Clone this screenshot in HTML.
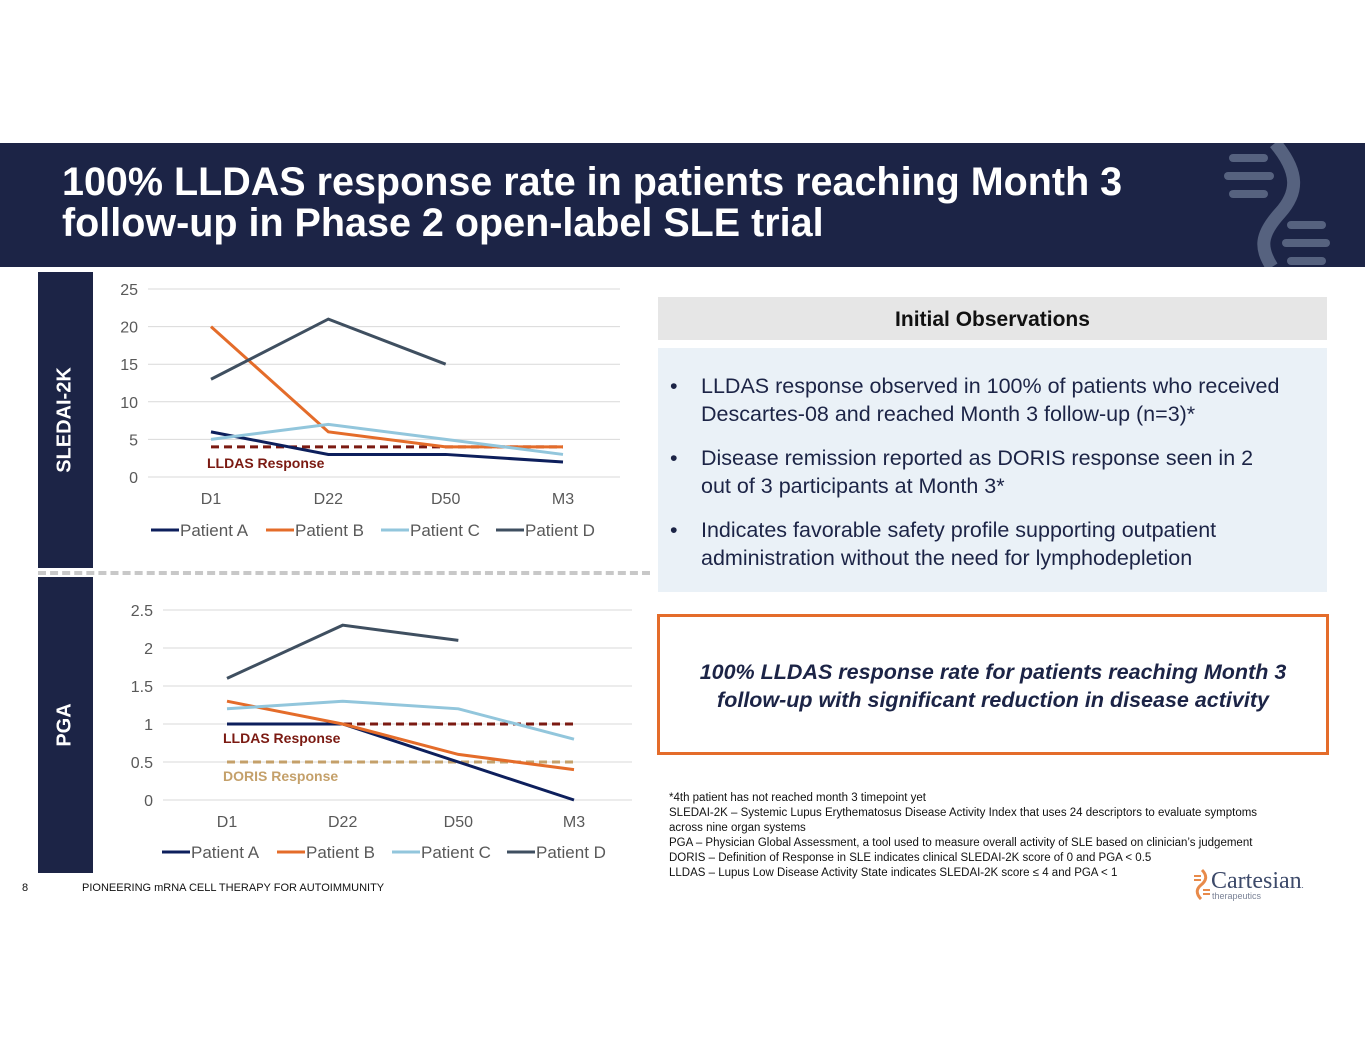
<!DOCTYPE html>
<html><head><meta charset="utf-8"><style>
body{margin:0;width:1365px;height:1055px;background:#fff;position:relative;font-family:"Liberation Sans",Arial,sans-serif;overflow:hidden}
.abs{position:absolute}
</style></head><body>
<div class="abs" style="left:0;top:143px;width:1365px;height:124px;background:#1c2446"></div>
<div class="abs" style="left:62px;top:162px;color:#fff;font-weight:bold;font-size:39.5px;line-height:41px">100% LLDAS response rate in patients reaching Month 3<br>follow-up in Phase 2 open-label SLE trial</div>
<svg class="abs" style="left:1180px;top:143px" width="185" height="124">
<path d="M95 0 C120 30,118 50,100 70 C80 92,80 105,92 124" stroke="#56627f" stroke-width="13" fill="none"/>
<g stroke="#56627f" stroke-width="8" stroke-linecap="round">
<line x1="53" y1="15" x2="84" y2="15"/><line x1="48" y1="33" x2="90" y2="33"/><line x1="53" y1="51" x2="84" y2="51"/>
<line x1="111" y1="82" x2="142" y2="82"/><line x1="106" y1="100" x2="146" y2="100"/><line x1="111" y1="118" x2="142" y2="118"/></g></svg>

<div class="abs" style="left:38px;top:272px;width:55px;height:296px;background:#1c2446"><div style="position:absolute;left:27px;top:148px;transform:translate(-50%,-50%) rotate(-90deg);color:#fff;font-weight:bold;font-size:20px;white-space:nowrap">SLEDAI-2K</div></div>
<div class="abs" style="left:38px;top:577px;width:55px;height:296px;background:#1c2446"><div style="position:absolute;left:27px;top:148px;transform:translate(-50%,-50%) rotate(-90deg);color:#fff;font-weight:bold;font-size:20px;white-space:nowrap">PGA</div></div>
<div class="abs" style="left:38px;top:571px;width:612px;border-top:4px dashed #c8c8c8"></div>

<svg class="abs" id="c1" style="left:0;top:0" width="660" height="560"></svg>
<svg class="abs" id="c2" style="left:0;top:0" width="660" height="880"></svg>

<div class="abs" style="left:658px;top:297px;width:669px;height:43px;background:#e6e6e6;text-align:center;font-weight:bold;font-size:21px;line-height:46px;color:#111">Initial Observations</div>
<div class="abs" style="left:658px;top:348px;width:669px;height:244px;background:#eaf1f7;font-size:21.5px;color:#1c2446;line-height:28px">
<div style="position:absolute;left:12px;top:24px">•</div><div style="position:absolute;left:43px;top:24px;width:620px">LLDAS response observed in 100% of patients who received Descartes-08 and reached Month 3 follow-up (n=3)*</div>
<div style="position:absolute;left:12px;top:96px">•</div><div style="position:absolute;left:43px;top:96px;width:620px">Disease remission reported as DORIS response seen in 2<br>out of 3 participants at Month 3*</div>
<div style="position:absolute;left:12px;top:168px">•</div><div style="position:absolute;left:43px;top:168px;width:620px">Indicates favorable safety profile supporting outpatient administration without the need for lymphodepletion</div>
</div>
<div class="abs" style="left:657px;top:614px;width:666px;height:135px;border:3px solid #e46c2a;text-align:center;font-weight:bold;font-style:italic;font-size:21.5px;line-height:28px;color:#1c2446"><div style="margin-top:41px">100% LLDAS response rate for patients reaching Month 3<br>follow-up with significant reduction in disease activity</div></div>
<div class="abs" style="left:669px;top:791px;font-size:11.5px;line-height:15px;color:#111;width:660px">*4th patient has not reached month 3 timepoint yet<br>SLEDAI-2K – Systemic Lupus Erythematosus Disease Activity Index that uses 24 descriptors to evaluate symptoms<br>across nine organ systems<br>PGA – Physician Global Assessment, a tool used to measure overall activity of SLE based on clinician’s judgement<br>DORIS – Definition of Response in SLE indicates clinical SLEDAI-2K score of 0 and PGA &lt; 0.5<br>LLDAS – Lupus Low Disease Activity State indicates SLEDAI-2K score ≤ 4 and PGA &lt; 1</div>
<div class="abs" style="left:22px;top:882px;font-size:11px;color:#111">8</div>
<div class="abs" style="left:82px;top:882px;font-size:11px;color:#111">PIONEERING mRNA CELL THERAPY FOR AUTOIMMUNITY</div>
<div class="abs" style="left:1192px;top:868px;width:140px;height:34px">
<svg width="20" height="32" style="position:absolute;left:0;top:0"><path d="M10 2 C16 8,14 13,9 17 C4 21,4 26,9 31" stroke="#e88a4a" stroke-width="3" fill="none"/><g stroke="#e88a4a" stroke-width="2"><line x1="2" y1="8" x2="9" y2="8"/><line x1="2" y1="12" x2="9" y2="12"/><line x1="11" y1="22" x2="18" y2="22"/><line x1="11" y1="26" x2="18" y2="26"/></g></svg>
<div style="position:absolute;left:19px;top:0;font-size:24px;color:#3d4a6a;font-family:'Liberation Serif',serif">Cartesian<span style="font-size:8px">.</span></div>
<div style="position:absolute;left:20px;top:23px;font-size:9px;color:#7a8296">therapeutics</div></div>

<script>
const cats=["D1","D22","D50","M3"];
const names=["Patient A","Patient B","Patient C","Patient D"];
const colors=["#0d1f5c","#e46c2a","#92c6dc","#3f4f60"];
const s1A=[6,3,3,2], s1B=[20,6,4,4], s1C=[5,7,5,3], s1D=[13,21,15];
const ticks1=[0,5,10,15,20,25];
const lldas1=4;
const s2A=[1,1,0.5,0], s2B=[1.3,1,0.6,0.4], s2C=[1.2,1.3,1.2,0.8], s2D=[1.6,2.3,2.1];
const ticks2=[0,0.5,1,1.5,2,2.5];
const lldas2=1, doris2=0.5;
const NS="http://www.w3.org/2000/svg";
function mk(svg,tag,a){const e=document.createElementNS(NS,tag);for(const k in a)e.setAttribute(k,a[k]);svg.appendChild(e);return e;}
function draw(svg,cfg){
 const y=v=>cfg.y0-(v-cfg.min)/(cfg.max-cfg.min)*(cfg.y0-cfg.y1);
 const x=i=>cfg.x0+i*(cfg.x3-cfg.x0)/3;
 cfg.ticks.forEach(t=>{
  const g=mk(svg,'line',{x1:cfg.gx0,x2:cfg.gx1,y1:y(t),y2:y(t),stroke:'#d9d9d9','stroke-width':1});
  
  const tx=mk(svg,'text',{x:cfg.gx0-10,y:y(t)+6,'text-anchor':'end','font-size':16,fill:'#595959'});
  tx.textContent=t;
 });
 cats.forEach((c,i)=>{const tx=mk(svg,'text',{x:x(i),y:cfg.y0+27,'text-anchor':'middle','font-size':16,fill:'#595959'});
  tx.textContent=c;});
 cfg.refs.forEach(r=>{
  const l=mk(svg,'line',{x1:x(0),x2:x(3),y1:y(r.v),y2:y(r.v),stroke:r.c,'stroke-width':3,'stroke-dasharray':'8,5'});
  
  const t=mk(svg,'text',{x:x(0)-4,y:y(r.v)+r.dy,'font-size':14,'font-weight':'bold',fill:r.c});
  t.textContent=r.t;
 });
 cfg.series.forEach((s,k)=>{
  const p=mk(svg,'polyline',{points:s.map((v,i)=>x(i)+','+y(v)).join(' '),fill:'none',stroke:colors[k],'stroke-width':3});
  
 });
 names.forEach((n,k)=>{const lx=cfg.lx+k*115;
  const l=mk(svg,'line',{x1:lx,x2:lx+28,y1:cfg.ly,y2:cfg.ly,stroke:colors[k],'stroke-width':3});
  
  const t=mk(svg,'text',{x:lx+29,y:cfg.ly+6,'font-size':17,fill:'#595959'});
  t.textContent=n;});
}
draw(document.getElementById('c1'),{min:0,max:25,y0:477,y1:289,x0:211,x3:563,gx0:148,gx1:620,ticks:ticks1,
 series:[s1A,s1B,s1C,s1D],refs:[{v:lldas1,c:'#7b1a12',t:'LLDAS Response',dy:21}],lx:151,ly:530});
draw(document.getElementById('c2'),{min:0,max:2.5,y0:800,y1:610,x0:227,x3:574,gx0:163,gx1:632,ticks:ticks2,
 series:[s2A,s2B,s2C,s2D],refs:[{v:lldas2,c:'#7b1a12',t:'LLDAS Response',dy:19},{v:doris2,c:'#c4a06a',t:'DORIS Response',dy:19}],lx:162,ly:852});
</script>
</body></html>
